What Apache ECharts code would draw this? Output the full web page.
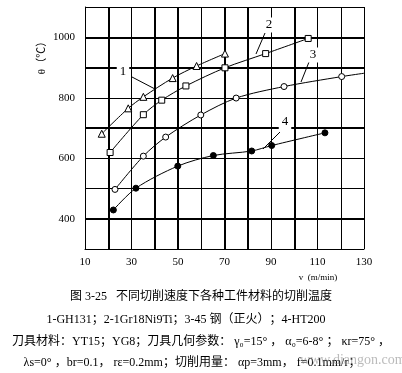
<!DOCTYPE html>
<html><head><meta charset="utf-8">
<script src="https://cdn.jsdelivr.net/npm/echarts@6/dist/echarts.min.js"></script>
<style>html,body{margin:0;padding:0;background:#fff}#c{width:402px;height:373px}</style>
</head><body><div id="c"></div>
<script>
// Data
const s1 = [[17.2,681],[28.6,765],[35.1,803],[47.7,865],[58,905],[70.2,946]];          // 1-GH131 (triangles)
const s2 = [[20.8,619],[35.1,744],[43,792],[53.4,839],[70.2,899],[87.7,946],[106,996]];  // 2-1Gr18Ni9Ti (squares)
const s3 = [[22.9,497],[35.1,607],[44.7,670],[59.8,743],[75,799],[95.6,837],[120.4,870]]; // 3-45钢 (open circles)
const s3tail = [130,881];
const s4 = [[22.2,429],[31.9,501],[49.9,574],[65.2,609],[81.7,624],[90.3,642],[113.2,684]]; // 4-HT200 (filled circles)
const xTicks = [10,30,50,70,90,110,130];
const yTicks = [400,600,800,1000];
const thickX = [20,40,50,70,80,100];
const thickY = [400,700,900,1000];

const serif = '"Liberation Serif","Noto Sans CJK SC",serif';
const chart = echarts.init(document.getElementById('c'));
const line = (data, symbol, fill, size) => ({
  type:'line', data, smooth:0.3, symbol, symbolSize:size, showSymbol:true,
  lineStyle:{color:'#000',width:1}, itemStyle:{color:fill,borderColor:'#000',borderWidth:1},
  z:5, silent:true, animation:false
});
const s3data = s3.map(p=>p).concat([{value:s3tail, symbol:'none'}]);
chart.setOption({
  animation:false,
  grid:{left:85,right:38,top:7,bottom:124},
  xAxis:{type:'value',min:10,max:130,interval:10,
    axisLine:{show:true,lineStyle:{color:'#000',width:1}},
    axisTick:{show:false},
    axisLabel:{color:'#000',fontFamily:serif,fontSize:11,margin:8,
      formatter:v=>xTicks.includes(v)?String(v):''},
    splitLine:{show:true,lineStyle:{color:'#000',width:1}}},
  yAxis:{type:'value',min:300,max:1100,interval:100,
    axisLine:{show:true,lineStyle:{color:'#000',width:1}},
    axisTick:{show:false},
    axisLabel:{color:'#000',fontFamily:serif,fontSize:11,margin:10,
      formatter:v=>yTicks.includes(v)?String(v):''},
    splitLine:{show:true,lineStyle:{color:'#000',width:1}}},
  series:[
    {type:'line',data:[],silent:true,
      markLine:{symbol:'none',silent:true,label:{show:false},animation:false,
        lineStyle:{color:'#000',width:2,type:'solid'},
        data:thickX.map(v=>({xAxis:v})).concat(thickY.map(v=>({yAxis:v})))}},
    line(s1,'triangle','#fff',7),
    line(s2,'rect','#fff',6),
    line(s3data,'circle','#fff',6),
    line(s4,'circle','#000',6)
  ],
  graphic:[
    // y-axis name
    {type:'text',x:42,y:55,rotation:Math.PI/2,style:{text:'θ（℃）',font:'11px '+serif,fill:'#000',align:'center',verticalAlign:'middle'}},
    // x-axis name
    {type:'text',x:318,y:278,style:{text:'v  (m/min)',font:'9px '+serif,fill:'#000',align:'center',verticalAlign:'middle'}},
    // curve labels with leader lines
    {type:'line',shape:{x1:132,y1:77,x2:155,y2:89},style:{stroke:'#000',lineWidth:1},z:10},
    {type:'text',x:123,y:72,z:11,style:{text:'1',font:'13px '+serif,fill:'#000',align:'center',verticalAlign:'middle',backgroundColor:'#fff',padding:[1,3]}},
    {type:'line',shape:{x1:265,y1:33,x2:256,y2:54},style:{stroke:'#000',lineWidth:1},z:10},
    {type:'text',x:269,y:25,z:11,style:{text:'2',font:'13px '+serif,fill:'#000',align:'center',verticalAlign:'middle',backgroundColor:'#fff',padding:[1,3]}},
    {type:'line',shape:{x1:309,y1:62,x2:301,y2:82},style:{stroke:'#000',lineWidth:1},z:10},
    {type:'text',x:313,y:55,z:11,style:{text:'3',font:'13px '+serif,fill:'#000',align:'center',verticalAlign:'middle',backgroundColor:'#fff',padding:[1,3]}},
    {type:'line',shape:{x1:280,y1:132,x2:263,y2:149},style:{stroke:'#000',lineWidth:1},z:10},
    {type:'text',x:285,y:122,z:11,style:{text:'4',font:'13px '+serif,fill:'#000',align:'center',verticalAlign:'middle',backgroundColor:'#fff',padding:[1,3]}},
    // caption
    {type:'text',x:201,y:297,style:{text:'图 3-25   不同切削速度下各种工件材料的切削温度',font:'12px '+serif,fill:'#000',align:'center',verticalAlign:'middle'}},
    {type:'text',x:186,y:320,style:{text:'1-GH131；2-1Gr18Ni9Ti；3-45 钢（正火）；4-HT200',font:'12px '+serif,fill:'#000',align:'center',verticalAlign:'middle'}},
    {type:'text',x:201,y:342,style:{text:'刀具材料：YT15；YG8；刀具几何参数： γ₀=15° ， α₀=6-8° ； κr=75° ，',font:'12px '+serif,fill:'#000',align:'center',verticalAlign:'middle'}},
    {type:'text',x:192,y:363,style:{text:'λs=0° ，br=0.1， rε=0.2mm；切削用量： αp=3mm， f=0.1mm/r；',font:'12px '+serif,fill:'#000',align:'center',verticalAlign:'middle'}},
    {type:'text',x:300,y:360,z:12,style:{text:'www.diangon.com',font:'14px '+serif,fill:'rgba(120,120,120,0.5)',verticalAlign:'middle'}}
  ]
});
</script></body></html>
